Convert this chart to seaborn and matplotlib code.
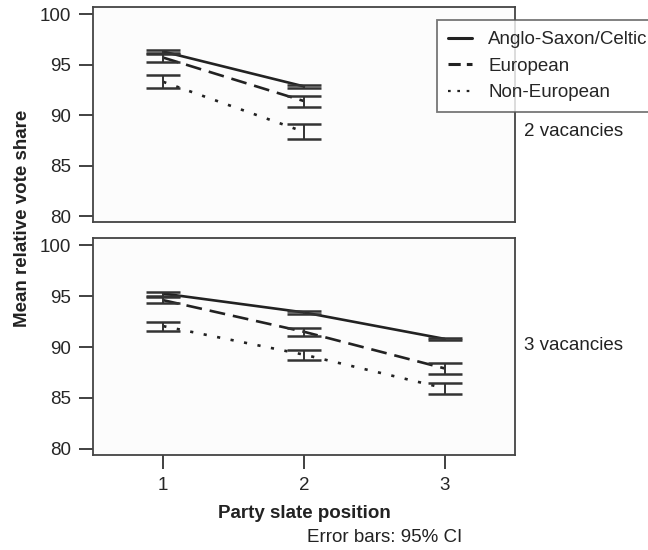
import numpy as np
import pandas as pd
import matplotlib
matplotlib.use("Agg")
import matplotlib.pyplot as plt
import seaborn as sns

# Group labels and line styles
groups = ["Anglo-Saxon/Celtic", "European", "Non-European"]

# 2 vacancies: slate positions 1-2
pos_2 = [1, 2]
anglo_2 = [96.3, 92.85]
anglo_2_lo = [96.1, 92.7]
anglo_2_hi = [96.5, 93.0]
euro_2 = [95.7, 91.4]
euro_2_lo = [95.3, 90.85]
euro_2_hi = [96.15, 91.9]
noneuro_2 = [93.3, 88.35]
noneuro_2_lo = [92.7, 87.6]
noneuro_2_hi = [93.95, 89.1]

# 3 vacancies: slate positions 1-3
pos_3 = [1, 2, 3]
anglo_3 = [95.25, 93.4, 90.8]
anglo_3_lo = [95.05, 93.2, 90.65]
anglo_3_hi = [95.45, 93.55, 90.9]
euro_3 = [94.6, 91.5, 87.9]
euro_3_lo = [94.3, 91.1, 87.35]
euro_3_hi = [94.95, 91.9, 88.4]
noneuro_3 = [92.05, 89.25, 85.95]
noneuro_3_lo = [91.6, 88.76, 85.4]
noneuro_3_hi = [92.5, 89.75, 86.5]

y_ticks = [80, 85, 90, 95, 100]
x_ticks = [1, 2, 3]

FONT = 13.5
INK = "#222222"
dash_styles = {
    "Anglo-Saxon/Celtic": "",
    "European": (6, 3),
    "Non-European": (1.2, 4),
}


def build_frame(pos, means, lows, highs):
    rows = []
    for g, m, lo, hi in zip(groups, means, lows, highs):
        for p, mv, l, h in zip(pos, m, lo, hi):
            rows.append({"position": p, "share": mv, "lo": l, "hi": h, "group": g})
    return pd.DataFrame(rows)


def draw_panel(ax, df):
    sns.lineplot(data=df, x="position", y="share", style="group",
                 dashes=dash_styles, color=INK, linewidth=1.9,
                 style_order=groups, legend=False, ax=ax)
    ax.errorbar(df["position"], df["share"],
                yerr=[df["share"] - df["lo"], df["hi"] - df["share"]],
                fmt="none", ecolor="#333333", elinewidth=1.4,
                capsize=12, capthick=1.8)
    ax.set_xlim(0.5, 3.5)
    ax.set_ylim(79.4, 100.7)
    ax.set_yticks(y_ticks)
    ax.set_xlabel("")
    ax.set_ylabel("")
    ax.set_facecolor("#fcfcfc")
    for s in ax.spines.values():
        s.set_visible(True)
        s.set_color("#444444")
        s.set_linewidth(1.3)
    ax.tick_params(axis="y", left=True, length=10, width=1.3,
                   color="#333333", labelsize=FONT, pad=6)


sns.set_theme(style="white")
plt.rcParams["font.family"] = ["Liberation Sans", "DejaVu Sans"]

fig = plt.figure(figsize=(6.48, 5.5), dpi=100)
ax_top = fig.add_axes([0.1435, 0.596, 0.651, 0.391])
ax_bot = fig.add_axes([0.1435, 0.173, 0.651, 0.394])

df2 = build_frame(pos_2, [anglo_2, euro_2, noneuro_2],
                  [anglo_2_lo, euro_2_lo, noneuro_2_lo],
                  [anglo_2_hi, euro_2_hi, noneuro_2_hi])
df3 = build_frame(pos_3, [anglo_3, euro_3, noneuro_3],
                  [anglo_3_lo, euro_3_lo, noneuro_3_lo],
                  [anglo_3_hi, euro_3_hi, noneuro_3_hi])

draw_panel(ax_top, df2)
draw_panel(ax_bot, df3)

ax_top.tick_params(axis="x", bottom=False, labelbottom=False)
ax_bot.set_xticks(x_ticks)
ax_bot.tick_params(axis="x", length=10, width=1.3, color="#333333",
                   labelsize=FONT, pad=6, bottom=True)

# Legend with line handles
handles = []
for g in groups:
    d = dash_styles[g]
    if d == "":
        h, = ax_top.plot([], [], color=INK, linewidth=2.2)
    elif g == "European":
        h, = ax_top.plot([], [], color=INK, linewidth=2.2, dashes=(4, 2))
    else:
        h, = ax_top.plot([], [], color=INK, linewidth=1.6, dashes=(1.2, 3))
    handles.append(h)
leg = fig.legend(handles, groups, loc="upper left",
                 bbox_to_anchor=(0.674, 0.964), frameon=True, fancybox=False,
                 fontsize=FONT, handlelength=1.3, handletextpad=0.85,
                 labelspacing=0.5, borderpad=0.6, borderaxespad=0)
leg.get_frame().set_edgecolor("#555555")
leg.get_frame().set_linewidth(1.3)
leg.get_frame().set_facecolor("white")

fig.text(0.809, 1 - 132 / 550, "2 vacancies", fontsize=FONT, va="center",
         color=INK)
fig.text(0.809, 1 - 346 / 550, "3 vacancies", fontsize=FONT, va="center",
         color=INK)
fig.text(0.034, 1 - 218 / 550, "Mean relative vote share", rotation=90,
         fontsize=FONT, fontweight="bold", va="center", ha="center",
         color=INK)
fig.text(0.4696, 1 - 513 / 550, "Party slate position", fontsize=FONT,
         fontweight="bold", ha="center", va="center", color=INK)
fig.text(0.4738, 1 - 538 / 550, "Error bars: 95% CI", fontsize=FONT,
         ha="left", va="center", color=INK)

fig.savefig("out.png", dpi=100, facecolor="white")
